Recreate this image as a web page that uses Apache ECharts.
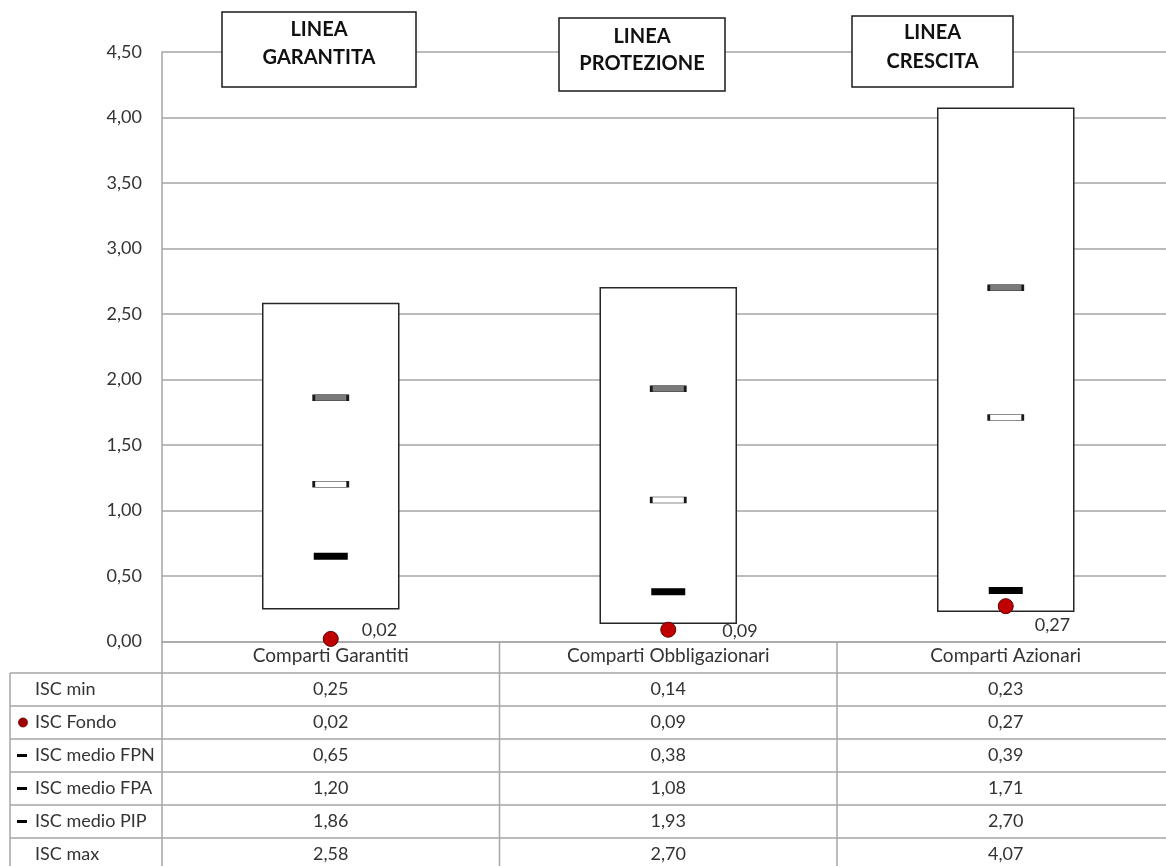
<!DOCTYPE html>
<html>
<head>
<meta charset="utf-8">
<script src="https://cdn.jsdelivr.net/npm/echarts@6/dist/echarts.min.js"></script>
<style>
  html, body { margin: 0; padding: 0; background: #ffffff; overflow: hidden; }
  #chart { width: 1175px; height: 866px; }
</style>
</head>
<body>
<div id="chart"></div>
<script>
// ---- data ----
const categories = ['Comparti Garantiti', 'Comparti Obbligazionari', 'Comparti Azionari'];
const lineTitles = [['LINEA', 'GARANTITA'], ['LINEA', 'PROTEZIONE'], ['LINEA', 'CRESCITA']];
const iscMin   = [0.25, 0.14, 0.23];
const iscFondo = [0.02, 0.09, 0.27];
const iscFPN   = [0.65, 0.38, 0.39];
const iscFPA   = [1.20, 1.08, 1.71];
const iscPIP   = [1.86, 1.93, 2.70];
const iscMax   = [2.58, 2.70, 4.07];
const yMin = 0, yMax = 4.5, yStep = 0.5;
const rowLabels = ['ISC min', 'ISC Fondo', 'ISC medio FPN', 'ISC medio FPA', 'ISC medio PIP', 'ISC max'];
const rowValues = [iscMin, iscFondo, iscFPN, iscFPA, iscPIP, iscMax];

// ---- styling ----
const FONT = 'Lato, "Open Sans", sans-serif';
const TEXT = '#333333';
const RULE = '#a6a6a6';
const INK = '#262626';
// label nudges for the fund dots: [distance to the right, vertical offset]
const fondoLabelNudge = [[23, -9], [46, 1], [21, 19]];
// title boxes: x, y, w, h and the two text lines' centres
const titleBoxes = [
  { x: 222, y: 12, w: 194, h: 75, l1: 30, l2: 58 },
  { x: 559, y: 18, w: 166, h: 73, l1: 37, l2: 64 },
  { x: 852, y: 16, w: 161, h: 71, l1: 33, l2: 62 }
];

const fmt = v => v.toFixed(2).replace('.', ',');

const chart = echarts.init(document.getElementById('chart'), null, { renderer: 'canvas' });

chart.setOption({
  backgroundColor: '#ffffff',
  animation: false,
  textStyle: { fontFamily: FONT },
  grid: { left: 162, top: 52, width: 1012.5, height: 589.5, containLabel: false },
  xAxis: {
    type: 'category',
    data: categories,
    axisLine: { show: true, lineStyle: { color: RULE, width: 1.5 } },
    axisTick: { show: false },
    axisLabel: { color: TEXT, fontSize: 19, fontFamily: FONT, margin: 5 },
    splitLine: { show: false }
  },
  yAxis: {
    type: 'value',
    min: yMin, max: yMax, interval: yStep,
    axisLine: { show: true, lineStyle: { color: RULE, width: 1.5 } },
    axisTick: { show: false },
    axisLabel: { color: TEXT, fontSize: 18, fontFamily: FONT, margin: 20, formatter: v => fmt(v) },
    splitLine: { show: true, lineStyle: { color: RULE, width: 1.5 } }
  },
  series: [
    {
      // min..max range box per category
      type: 'custom',
      name: 'range',
      z: 2,
      encode: { x: 0, y: [1, 2] },
      data: categories.map((c, i) => [i, iscMin[i], iscMax[i]]),
      renderItem: (params, api) => {
        const lo = api.coord([api.value(0), api.value(1)]);
        const hi = api.coord([api.value(0), api.value(2)]);
        const w = api.size([1, 0])[0] * 0.403;
        return {
          type: 'rect',
          shape: { x: lo[0] - w / 2, y: hi[1], width: w, height: lo[1] - hi[1] },
          style: { fill: '#ffffff', stroke: INK, lineWidth: 1.5 }
        };
      }
    },
    {
      type: 'scatter', name: 'ISC medio PIP', z: 4,
      symbol: 'rect', symbolSize: [34, 6],
      itemStyle: { color: '#7a7a7a', borderColor: '#1a1a1a', borderWidth: 1.2, opacity: 1 },
      data: iscPIP.map((v, i) => [i, v])
    },
    {
      type: 'scatter', name: 'ISC medio FPA', z: 4,
      symbol: 'rect', symbolSize: [34, 6],
      itemStyle: { color: '#ffffff', borderColor: '#1a1a1a', borderWidth: 1.2, opacity: 1 },
      data: iscFPA.map((v, i) => [i, v])
    },
    {
      type: 'scatter', name: 'ISC medio FPN', z: 4,
      symbol: 'rect', symbolSize: [34, 7],
      itemStyle: { color: '#000000', opacity: 1 },
      data: iscFPN.map((v, i) => [i, v])
    },
    {
      type: 'scatter', name: 'ISC Fondo', z: 5,
      symbol: 'circle', symbolSize: 15,
      itemStyle: { color: '#c00000', borderColor: '#5e0000', borderWidth: 1, opacity: 1 },
      label: {
        show: true, position: 'right', color: TEXT, fontSize: 18, fontFamily: FONT,
        formatter: p => fmt(p.value[1])
      },
      data: iscFondo.map((v, i) => ({
        value: [i, v],
        label: { distance: fondoLabelNudge[i][0], offset: [0, fondoLabelNudge[i][1]] }
      }))
    }
  ]
});

// ---- data table under the axis and title boxes ----
function buildGraphics() {
  const xs = categories.map((c, i) => chart.convertToPixel({ xAxisIndex: 0 }, i));
  const band = xs.length > 1 ? xs[1] - xs[0] : 300;
  const axisY = chart.convertToPixel({ yAxisIndex: 0 }, 0);
  const headerH = 31.5, rowH = 33, leftX = 10, rightX = 1175;
  const firstRowTop = axisY + headerH;
  const bottom = firstRowTop + rowH * rowLabels.length;
  const lineStyle = { stroke: RULE, lineWidth: 1.5 };
  const g = [];

  // vertical rules: axis column and column separators
  const colEdges = [xs[0] - band / 2].concat(xs.map(x => x + band / 2));
  colEdges.forEach(x => {
    g.push({ type: 'line', silent: true, shape: { x1: x, y1: axisY, x2: x, y2: bottom }, style: lineStyle });
  });
  g.push({ type: 'line', silent: true, shape: { x1: leftX, y1: firstRowTop, x2: leftX, y2: bottom }, style: lineStyle });

  // horizontal rules
  for (let r = 0; r <= rowLabels.length; r++) {
    const y = firstRowTop + r * rowH;
    g.push({ type: 'line', silent: true, shape: { x1: leftX, y1: y, x2: rightX, y2: y }, style: lineStyle });
  }

  // row labels, legend keys and values
  rowLabels.forEach((label, r) => {
    const cy = firstRowTop + r * rowH + rowH / 2;
    g.push({
      type: 'text', silent: true, x: 35, y: cy,
      style: { text: label, fill: TEXT, fontSize: 18, fontFamily: FONT, align: 'left', verticalAlign: 'middle' }
    });
    if (label === 'ISC Fondo') {
      g.push({ type: 'circle', silent: true, shape: { cx: 23, cy: cy, r: 4.5 },
        style: { fill: '#a00000', stroke: '#5e0000', lineWidth: 0.8 } });
    } else if (label.indexOf('medio') >= 0) {
      g.push({ type: 'rect', silent: true, shape: { x: 17, y: cy - 1.5, width: 10, height: 3 },
        style: { fill: '#000000' } });
    }
    rowValues[r].forEach((v, i) => {
      g.push({
        type: 'text', silent: true, x: xs[i], y: cy,
        style: { text: fmt(v), fill: TEXT, fontSize: 18, fontFamily: FONT, align: 'center', verticalAlign: 'middle' }
      });
    });
  });

  // line title boxes
  titleBoxes.forEach((b, i) => {
    g.push({ type: 'rect', silent: true, z: 10, shape: { x: b.x, y: b.y, width: b.w, height: b.h },
      style: { fill: '#ffffff', stroke: '#1a1a1a', lineWidth: 1.5 } });
    [b.l1, b.l2].forEach((ly, k) => {
      g.push({ type: 'text', silent: true, z: 11, x: b.x + b.w / 2, y: ly,
        style: { text: lineTitles[i][k], fill: '#111111', fontSize: 20, fontWeight: 'bold', fontFamily: FONT,
          align: 'center', verticalAlign: 'middle' } });
    });
  });

  chart.setOption({ graphic: { elements: g } });
}
buildGraphics();
</script>
</body>
</html>
